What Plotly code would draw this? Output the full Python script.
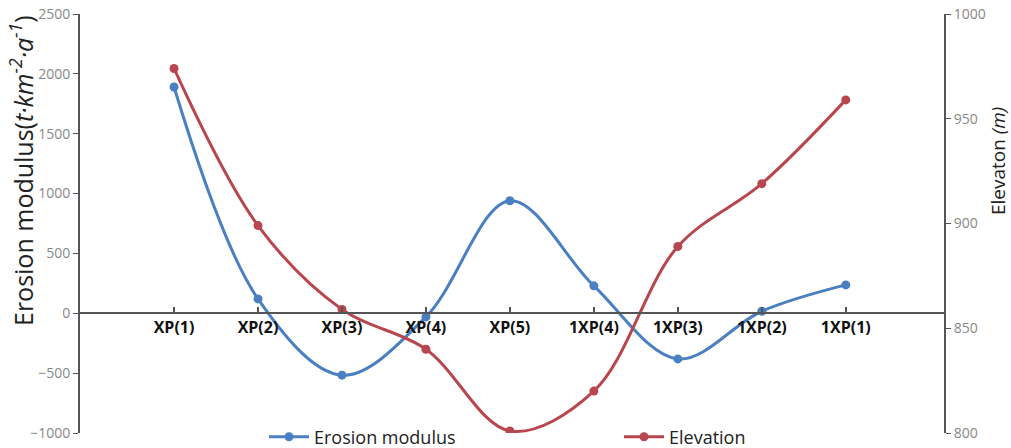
import plotly.graph_objects as go

categories = ["XP(1)", "XP(2)", "XP(3)", "XP(4)", "XP(5)", "1XP(4)", "1XP(3)", "1XP(2)", "1XP(1)"]
erosion = [1890, 120, -517, -30, 940, 229, -381, 17, 237]
elevation = [974, 899, 859, 840, 801, 820, 889, 919, 959]

BLUE = "#4a80c2"
RED = "#b8464e"
W, H = 1011, 448
ML, MR, MT, MB = 80, 67, 14, 15

xs = list(range(len(categories)))

fig = go.Figure()
fig.add_trace(go.Scatter(
    x=xs, y=erosion, name="Erosion modulus", mode="lines+markers",
    line=dict(color=BLUE, width=3, shape="spline", smoothing=1.0),
    marker=dict(color=BLUE, size=9), yaxis="y"))
fig.add_trace(go.Scatter(
    x=xs, y=elevation, name="Elevation", mode="lines+markers",
    line=dict(color=RED, width=3, shape="spline", smoothing=1.0),
    marker=dict(color=RED, size=9), yaxis="y2"))

zero_frac = (0 - (-1000)) / 3500
plot_w = W - ML - MR
plot_h = H - MT - MB

def px_to_paper_x(xpix):
    return (xpix - ML) / plot_w

def py_to_paper(ypix):
    return (H - MB - ypix) / plot_h

fig.update_layout(
    width=W, height=H,
    margin=dict(l=ML, r=MR, t=MT, b=MB, autoexpand=False),
    paper_bgcolor="white", plot_bgcolor="white",
    font=dict(family="Open Sans, Noto Sans, sans-serif", color="#333"),
    showlegend=True,
    legend=dict(orientation="h", x=px_to_paper_x(264), xanchor="left",
                y=py_to_paper(437), yanchor="middle",
                entrywidth=300, entrywidthmode="pixels",
                font=dict(size=18, color="#222"), bgcolor="rgba(0,0,0,0)",
                itemwidth=40),
    xaxis=dict(
        range=[-1.12, 9.17], tickmode="array", tickvals=xs, ticktext=categories,
        showgrid=False, zeroline=False, showline=True, linecolor="#555", linewidth=2,
        ticks="inside", ticklen=5, tickcolor="#555", tickwidth=1.5,
        anchor="free", position=zero_frac,
        tickfont=dict(size=16, color="#111", family="Open Sans, sans-serif", weight="bold"),
    ),
    yaxis=dict(
        range=[-1000, 2500], tickmode="linear", tick0=-1000, dtick=500,
        showgrid=False, zeroline=False, showline=True, linecolor="#555", linewidth=2,
        ticks="outside", ticklen=5, tickcolor="#555", ticklabeloverflow="allow",
        tickfont=dict(size=14, color="#888"),
    ),
    yaxis2=dict(
        range=[800, 1000], tickmode="linear", tick0=800, dtick=50,
        overlaying="y", side="right",
        showgrid=False, zeroline=False, showline=True, linecolor="#555", linewidth=2,
        ticks="outside", ticklen=5, tickcolor="#555", ticklabeloverflow="allow",
        tickfont=dict(size=14, color="#888"),
    ),
)

fig.add_annotation(
    text="Erosion modulus(<i>t·km<sup>-2</sup>·a<sup>-1</sup></i>)",
    xref="paper", yref="paper", x=px_to_paper_x(21), y=py_to_paper(171),
    xanchor="center", yanchor="middle", textangle=-90, showarrow=False,
    font=dict(size=25, color="#222"))
fig.add_annotation(
    text="Elevaton <i>(m)</i>",
    xref="paper", yref="paper", x=px_to_paper_x(998), y=py_to_paper(161),
    xanchor="center", yanchor="middle", textangle=-90, showarrow=False,
    font=dict(size=19, color="#222"))

fig.write_html(
    "out.html",
    config={"displayModeBar": False},
    post_script="document.body.style.margin='0';document.body.style.overflow='hidden';",
)
